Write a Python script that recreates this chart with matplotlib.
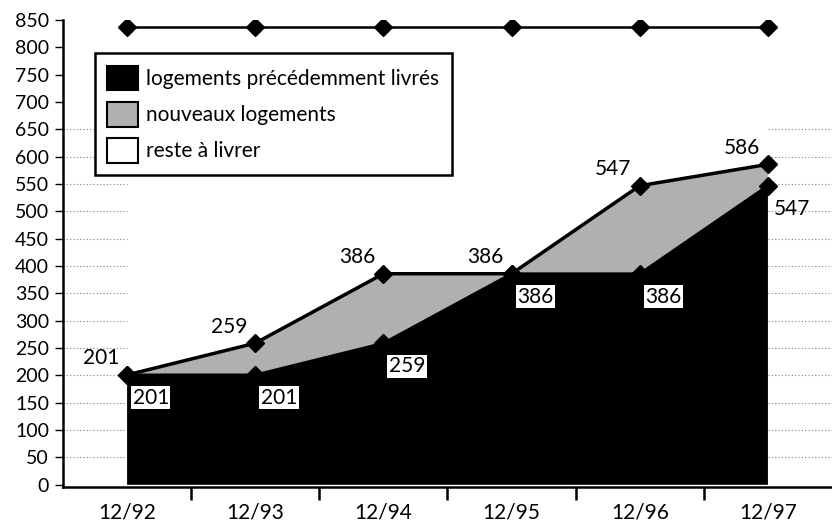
import numpy as np
from matplotlib import pyplot as plt
from matplotlib.patches import Patch

# Data
periods = ['12/92', '12/93', '12/94', '12/95', '12/96', '12/97']
precedemment = [201, 201, 259, 386, 386, 547]   # logements précédemment livrés
total_livres = [201, 259, 386, 386, 547, 586]   # + nouveaux logements
programme = [838, 838, 838, 838, 838, 838]      # top line (total)
legend_labels = ['logements précédemment livrés', 'nouveaux logements', 'reste à livrer']

plt.rcParams['font.family'] = ['Lato', 'DejaVu Sans']

x = np.arange(len(periods))

fig = plt.figure(figsize=(8.32, 5.21), dpi=100)
ax = fig.add_axes([63 / 832, 34 / 521, 769 / 832, 467 / 521])

# dotted grid, only visible outside the filled area (left and right margins)
grid_y = range(50, 651, 50)
ax.hlines(grid_y, -0.5, 0, colors='#808080', lw=0.8, linestyles=(0, (1, 2)), zorder=0)
ax.hlines(grid_y, 5, 5.5, colors='#808080', lw=0.8, linestyles=(0, (1, 2)), zorder=0)

gray = '#b0b0b0'
ax.fill_between(x, 0, precedemment, facecolor='black', edgecolor='none', zorder=2)
ax.fill_between(x, precedemment, total_livres, facecolor=gray, edgecolor='none', zorder=2)

ax.plot(x, precedemment, color='black', lw=2, marker='D', ms=9, zorder=3)
ax.plot(x, total_livres, color='black', lw=2.5, marker='D', ms=9, zorder=4)
ax.plot(x, programme, color='black', lw=1.8, marker='D', ms=9, zorder=4)

# value labels
for xi, v in zip(x, total_livres):
    ax.annotate(str(v), (xi, v), xytext=(-19, 12), textcoords='offset points',
                ha='center', va='center', fontsize=15, zorder=6)
for i, (xi, v) in enumerate(zip(x, precedemment)):
    box = dict(facecolor='white', edgecolor='none', pad=1) if i < len(x) - 1 else None
    ax.annotate(str(v), (xi, v), xytext=(17, -16.5), textcoords='offset points',
                ha='center', va='center', fontsize=15, bbox=box, zorder=6)

ax.set_xlim(-0.5, 5.5)
ax.set_ylim(-4, 850)
ax.set_yticks(range(0, 851, 50))
ax.set_xticks(x)
ax.set_xticklabels(periods)
ax.set_xticks(x[:-1] + 0.5, minor=True)
ax.tick_params(axis='x', which='major', length=0, pad=11, labelsize=15)
ax.tick_params(axis='x', which='minor', length=9, width=1.8, direction='out')
ax.tick_params(axis='y', length=6, width=1, direction='out', pad=4, labelsize=14)

for s in ['top', 'right']:
    ax.spines[s].set_visible(False)
ax.spines['left'].set_linewidth(1.8)
ax.spines['bottom'].set_linewidth(1.8)

handles = [Patch(facecolor='black', edgecolor='black', lw=1.5),
           Patch(facecolor=gray, edgecolor='black', lw=1.5),
           Patch(facecolor='white', edgecolor='black', lw=1.5)]
leg = ax.legend(handles, legend_labels, loc='upper left', bbox_to_anchor=(0.0416, 0.929),
                borderaxespad=0, fontsize=15, handlelength=1.45, handleheight=1.45,
                handletextpad=0.4, labelspacing=0.55, borderpad=0.6, fancybox=False,
                framealpha=1, edgecolor='black')
leg.get_frame().set_linewidth(1.8)
leg.set_zorder(7)

fig.savefig('out.png', dpi=100)
